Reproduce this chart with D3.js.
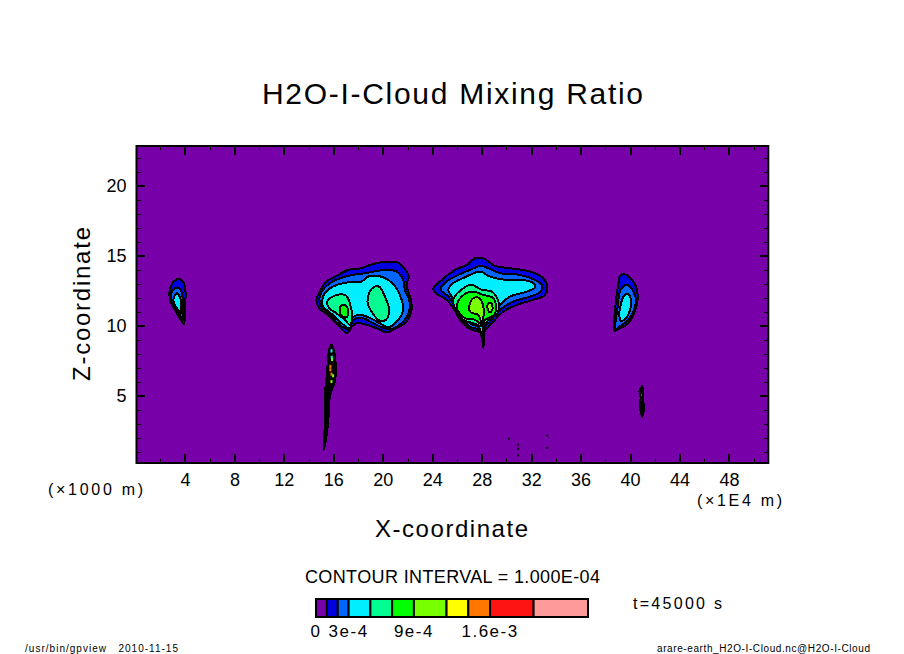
<!DOCTYPE html>
<html>
<head>
<meta charset="utf-8">
<script src="https://cdn.jsdelivr.net/npm/d3@7"></script>
<style>
  html, body { margin: 0; padding: 0; background: #fff; }
  svg { display: block; }
  text { font-family: "Liberation Sans", sans-serif; fill: #000; }
</style>
</head>
<body>
<div id="chart"></div>
<script>
// contour rings per level, [x in 1E4 m, z in 1000 m]
const ringsLevel1 = [
  [[2.81,12.69],[3.08,13.16],[3.56,13.35],[3.91,13.04],[4.05,12.33],[3.97,11.14],[3.92,10.14],[3.43,10.78],[3.02,11.38],[2.75,12.09]],
  [[14.63,11.86],[14.9,12.45],[15.44,13.17],[16.25,13.57],[17.2,14.0],[18.28,14.12],[19.22,14.43],[20.57,14.59],[21.25,14.52],[21.79,14.05],[22.11,13.52],[21.92,12.93],[22.24,11.97],[22.33,11.14],[21.92,10.31],[21.11,9.83],[20.3,9.55],[19.49,9.83],[18.68,10.07],[17.87,10.19],[17.46,9.9],[17.11,9.48],[16.52,9.9],[15.85,10.55],[15.17,11.02],[14.77,11.38]],
  [[24.08,12.62],[24.76,13.28],[25.84,14.0],[26.78,14.35],[27.46,14.83],[28.13,14.83],[29.08,14.28],[30.29,14.12],[31.91,13.88],[32.99,13.4],[33.31,12.81],[33.13,12.21],[32.18,11.86],[30.83,11.5],[29.75,11.02],[28.81,10.19],[28.27,9.67],[28.13,8.41],[27.94,9.48],[27.05,9.76],[26.24,10.43],[25.7,11.26],[25.16,11.86],[24.49,12.21]],
  [[38.73,9.66],[38.79,11.14],[39.06,13.04],[39.24,13.64],[39.68,13.64],[40.27,13.16],[40.59,12.45],[40.54,11.5],[39.87,10.19],[39.19,9.83]],
  [[15.22,1.14],[15.31,3.05],[15.31,4.95],[15.49,6.62],[15.66,8.29],[15.85,8.64],[16.03,8.29],[16.2,6.86],[16.12,6.02],[15.71,4.95],[15.66,4.0],[15.44,2.1]],
  [[40.76,5.31],[41.0,5.71],[41.03,4.95],[41.11,4.24],[41.0,3.52],[40.78,4.24],[40.86,4.95]]
]
const ringsLevel2 = [
  [[2.89,12.33],[3.16,12.69],[3.56,12.69],[3.78,12.21],[3.83,11.14],[3.83,10.43],[3.43,11.02],[3.02,11.62]],
  [[14.9,12.09],[15.71,13.05],[17.2,13.57],[18.55,13.76],[20.3,14.0],[21.11,13.88],[21.65,13.28],[21.79,12.57],[22.14,11.86],[22.14,11.02],[21.65,10.31],[20.57,9.76],[19.22,10.19],[18.41,10.55],[17.6,10.43],[17.28,9.71],[16.52,10.07],[15.71,10.79],[15.04,11.38]],
  [[24.67,12.62],[25.16,13.17],[26.11,13.64],[27.05,14.0],[28.0,14.28],[28.81,14.0],[29.48,13.76],[31.1,13.64],[32.32,13.28],[32.86,12.93],[32.77,12.45],[31.91,12.09],[30.56,11.74],[29.48,11.14],[28.67,10.31],[28.13,9.76],[28.08,8.76],[27.86,9.67],[27.05,9.95],[26.38,10.55],[25.84,11.38],[25.3,12.09]],
  [[38.84,9.76],[38.97,11.14],[39.24,12.57],[39.73,12.93],[40.27,12.45],[40.46,11.62],[39.87,10.43],[39.33,10.07]],
  [[15.34,1.74],[15.4,3.19],[15.42,5.09],[15.6,6.76],[15.74,8.24],[15.85,8.54],[15.95,8.24],[16.08,7.0],[16.02,6.24],[15.62,5.09],[15.56,4.04],[15.4,2.44]],
  [[40.86,5.2],[40.98,5.5],[40.98,4.9],[40.88,4.85]]
]
const ringsLevel3 = [
  [[3.08,11.97],[3.35,12.33],[3.62,11.97],[3.7,11.26],[3.65,10.9],[3.35,11.26],[3.11,11.62]],
  [[15.09,11.74],[15.3,12.33],[15.98,12.81],[17.06,13.09],[18.28,13.17],[18.82,13.52],[19.63,13.57],[20.44,13.28],[21.11,12.69],[21.52,11.86],[21.65,11.14],[21.25,10.43],[20.44,9.9],[19.76,10.19],[18.82,10.62],[18.14,10.79],[17.6,10.62],[17.33,9.83],[16.66,10.19],[15.85,10.86],[15.17,11.38]],
  [[25.3,12.57],[25.7,13.05],[26.65,13.47],[27.86,13.88],[28.54,13.57],[29.48,13.33],[31.37,13.28],[32.18,13.05],[32.32,12.76],[31.64,12.45],[30.29,12.09],[29.35,11.38],[28.54,10.43],[28.13,9.83],[28.02,9.12],[27.81,9.83],[27.05,10.19],[26.51,10.67],[25.97,11.38],[25.57,12.09]],
  [[39.14,10.66],[39.24,11.5],[39.51,12.14],[39.87,12.26],[40.08,11.74],[40.0,11.14],[39.6,10.47],[39.24,10.38]],
  [[15.45,3.14],[15.5,5.09],[15.68,6.74],[15.82,8.04],[15.9,7.04],[15.92,6.34],[15.6,5.14],[15.52,3.64]],
  [[40.92,4.5],[41.02,4.6],[41.05,4.0],[40.98,3.7],[40.9,4.1]]
]
const ringsLevel4 = [
  [[15.52,11.74],[15.85,12.05],[16.66,12.26],[17.06,12.14],[17.33,11.62],[17.52,10.55],[17.33,10.07],[16.93,10.43],[16.25,10.9],[15.66,11.26]],
  [[19.36,12.81],[19.76,12.76],[20.17,12.09],[20.52,11.14],[20.25,10.43],[19.76,10.36],[19.09,11.02],[18.76,11.74],[18.95,12.45]],
  [[25.7,11.86],[26.51,12.69],[27.19,12.93],[28.0,12.57],[28.81,12.45],[29.35,11.74],[29.27,10.9],[28.54,10.43],[28.13,9.95],[27.32,10.19],[26.51,10.43],[25.97,11.02]],
  [[15.58,5.34],[15.76,6.94],[15.86,7.74],[15.86,6.84],[15.78,6.14]]
]
const ringsLevel5 = [
  [[16.66,11.45],[17.01,11.45],[17.2,11.02],[17.06,10.62],[16.74,10.67],[16.52,11.09]],
  [[25.97,11.38],[26.38,12.09],[27.19,12.45],[28.13,12.21],[28.94,11.98],[29.16,11.26],[28.99,10.78],[28.27,10.43],[28.08,10.07],[27.46,10.43],[26.65,10.55],[26.11,11.02]]
]
const ringsLevel6 = [
  [[27.05,11.62],[27.32,11.98],[27.81,11.98],[28.13,11.38],[28.13,10.55],[28.02,10.19],[27.73,10.78],[27.46,10.86],[27.05,11.02]],
  [[28.48,11.5],[28.67,11.67],[28.86,11.45],[28.83,11.09],[28.62,10.98],[28.48,11.19]]
]

// single grid cells that stand out inside the thin plume near x = 16
const spotX = [15.85, 15.87, 15.9, 15.76, 15.76, 15.85, 15.98, 15.85]
const spotZ = [8.22, 7.76, 7.59, 7.1, 6.86, 6.55, 6.43, 6.02]
const spotLevel = [3, 4, 6, 8, 8, 8, 6, 6]

// isolated specks of very small values
const speckX = [30.2, 30.94, 30.94, 30.94, 33.3, 33.3]
const speckZ = [1.93, 1.21, 1.5, 0.74, 2.16, 1.28]

const shadeLevels = [0, 1e-4, 2e-4, 3e-4, 5e-4, 7e-4, 9e-4, 1.2e-3, 1.4e-3, 1.6e-3, 2e-3, 2.5e-3]
const shadeColors = ["#7800a8", "#0000e0", "#0066ff", "#00eeff", "#00ff90", "#00ff00", "#78ff00", "#ffff00", "#ff7700", "#ff1414", "#ff9a9a"]
const legendTicks = [0, 3e-4, 9e-4, 1.6e-3]
const legendLabels = ["0", "3e-4", "9e-4", "1.6e-3"]

const xMajor = d3.range(4, 49, 4)
const xMinor = d3.range(2, 51, 4)
const zMajor = [5, 10, 15, 20]
const zMinor = d3.range(1, 23).filter(d => d % 5 !== 0)

const width = 904
const height = 654

const x = d3.scaleLinear().domain([0.08, 51.18]).range([136.5, 768.3])
const y = d3.scaleLinear().domain([0.2, 22.85]).range([463, 146])
const legendX = d3.scaleLinear().domain([0, 2.5e-3]).range([316, 588])

const svg = d3.select("#chart").append("svg").attr("width", width).attr("height", height)

const label = (txt, px, py, size, len, anchor) => svg.append("text")
  .attr("x", px).attr("y", py)
  .attr("font-size", size)
  .attr("text-anchor", anchor || "start")
  .attr("textLength", len)
  .attr("lengthAdjust", "spacing")
  .text(txt)

// background and filled contours, lowest level first
svg.append("rect")
  .attr("x", x.range()[0]).attr("y", y.range()[1])
  .attr("width", x.range()[1] - x.range()[0])
  .attr("height", y.range()[0] - y.range()[1])
  .attr("fill", shadeColors[0])

const ring = d3.line().x(d => x(d[0])).y(d => y(d[1])).curve(d3.curveCatmullRomClosed.alpha(0.5))

const levels = [ringsLevel1, ringsLevel2, ringsLevel3, ringsLevel4, ringsLevel5, ringsLevel6]
levels.forEach((rings, i) => {
  svg.append("g").selectAll("path")
    .data(rings)
    .enter()
    .append("path")
    .attr("d", ring)
    .attr("fill", shadeColors[i + 1])
    .attr("stroke", "#000")
    .attr("stroke-width", 2)
    .attr("shape-rendering", "crispEdges")
})

svg.append("g").selectAll("rect")
  .data(spotX)
  .enter()
  .append("rect")
  .attr("x", d => x(d) - 1)
  .attr("y", (d, i) => y(spotZ[i]) - 1.5)
  .attr("width", 2)
  .attr("height", 3)
  .attr("fill", (d, i) => shadeColors[spotLevel[i]])

svg.append("g").selectAll("rect")
  .data(speckX)
  .enter()
  .append("rect")
  .attr("x", d => x(d) - 1)
  .attr("y", (d, i) => y(speckZ[i]) - 1)
  .attr("width", 2)
  .attr("height", 2)
  .attr("fill", "#000")

// axes, all ticks point into the plot
const drawAxis = (axis, pos, size, tickWidth, values, showLabels) => {
  const g = svg.append("g")
    .attr("transform", pos)
    .call(axis.tickValues(values).tickSize(-size).tickPadding(10))
  g.select(".domain").remove()
  g.selectAll("line").attr("stroke", "#000").attr("stroke-width", tickWidth).attr("shape-rendering", "crispEdges")
  g.selectAll("text").attr("font-size", 18).attr("font-family", "'Liberation Sans', sans-serif")
  if (!showLabels) g.selectAll("text").remove()
}

const bottomPos = "translate(0," + y.range()[0] + ")"
const leftPos = "translate(" + x.range()[0] + ",0)"
drawAxis(d3.axisBottom(x), bottomPos, 4, 1, xMinor, false)
drawAxis(d3.axisBottom(x), bottomPos, 9, 2, xMajor, true)
drawAxis(d3.axisTop(x), "translate(0," + y.range()[1] + ")", 4, 1, xMinor, false)
drawAxis(d3.axisTop(x), "translate(0," + y.range()[1] + ")", 9, 2, xMajor, false)
drawAxis(d3.axisLeft(y), leftPos, 4, 1, zMinor, false)
drawAxis(d3.axisLeft(y), leftPos, 8, 2, zMajor, true)
drawAxis(d3.axisRight(y), "translate(" + x.range()[1] + ",0)", 4, 1, zMinor, false)
drawAxis(d3.axisRight(y), "translate(" + x.range()[1] + ",0)", 8, 2, zMajor, false)

svg.append("rect")
  .attr("x", x.range()[0]).attr("y", y.range()[1])
  .attr("width", x.range()[1] - x.range()[0])
  .attr("height", y.range()[0] - y.range()[1])
  .attr("fill", "none")
  .attr("stroke", "#000")
  .attr("stroke-width", 2)

// titles
label("H2O-I-Cloud Mixing Ratio", 262, 104, 30, 381)
label("X-coordinate", 375, 537, 24, 153)
label("(×1000 m)", 48, 495, 16, 95)
label("(×1E4 m)", 697, 506, 16, 85)
svg.append("text")
  .attr("transform", "translate(90,381) rotate(-90)")
  .attr("font-size", 24)
  .attr("textLength", 154)
  .attr("lengthAdjust", "spacing")
  .text("Z-coordinate")

label("CONTOUR INTERVAL = 1.000E-04", 305, 583, 18, 295)
label("t=45000 s", 633, 609, 16, 89)

// colour bar
const legendG = svg.append("g")
legendG.selectAll("rect")
  .data(shadeColors)
  .enter()
  .append("rect")
  .attr("x", (d, i) => legendX(shadeLevels[i]))
  .attr("y", 599)
  .attr("width", (d, i) => legendX(shadeLevels[i + 1]) - legendX(shadeLevels[i]))
  .attr("height", 18)
  .attr("fill", d => d)
  .attr("stroke", "#000")
  .attr("stroke-width", 2)
legendG.selectAll("text")
  .data(legendTicks)
  .enter()
  .append("text")
  .attr("x", d => legendX(d))
  .attr("y", 637)
  .attr("text-anchor", "middle")
  .attr("font-size", 17)
  .attr("letter-spacing", 1.5)
  .text((d, i) => legendLabels[i])

label("/usr/bin/gpview   2010-11-15", 25, 652, 10, 153).style("white-space", "pre")
label("arare-earth_H2O-I-Cloud.nc@H2O-I-Cloud", 657, 652, 10, 213)
</script>
</body>
</html>
